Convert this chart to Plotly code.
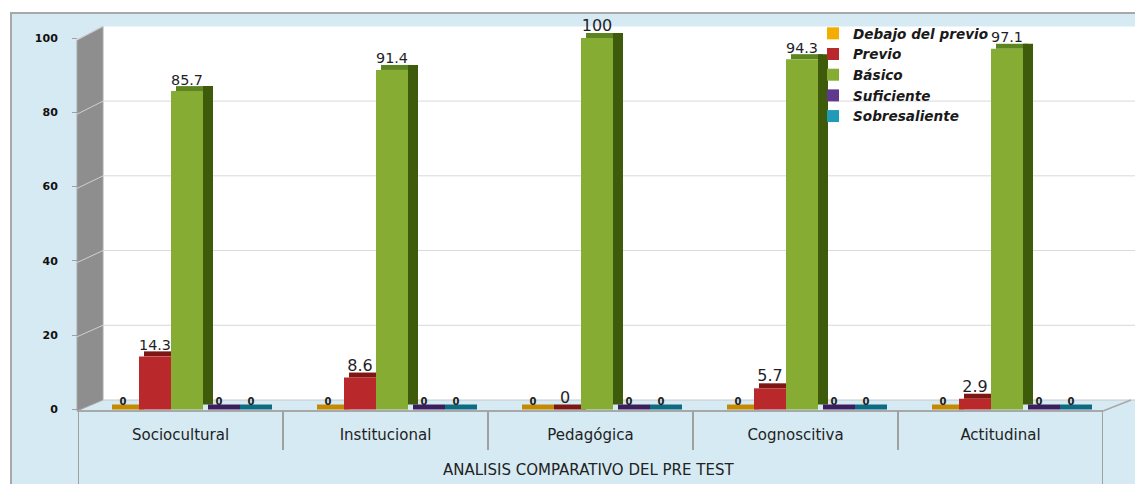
import plotly.graph_objects as go

# ---------------- data ----------------
categories = ["Sociocultural", "Institucional", "Pedagógica", "Cognoscitiva", "Actitudinal"]
series_names = ["Debajo del previo", "Previo", "Básico", "Suficiente", "Sobresaliente"]
debajo_del_previo = [0, 0, 0, 0, 0]
previo = [14.3, 8.6, 0, 5.7, 2.9]
basico = [85.7, 91.4, 100, 94.3, 97.1]
suficiente = [0, 0, 0, 0, 0]
sobresaliente = [0, 0, 0, 0, 0]
y_ticks = [0, 20, 40, 60, 80, 100]
x_title = "ANALISIS COMPARATIVO DEL PRE TEST"

series_values = [debajo_del_previo, previo, basico, suficiente, sobresaliente]

# ---------------- styling ----------------
W, H = 1135, 484
L, R, T, B = 78, 1103, 28, 411          # plot area in px
CAT_PX = (R - L) / len(categories)
Y_PX = 3.715                             # px per unit on bar axis
Y_MIN = -(B - 409.5) / Y_PX
Y_MAX = Y_MIN + (B - T) / Y_PX

front_colors = ["#F5AC00", "#B9282A", "#86AC34", "#60398E", "#1F9BB8"]
top_colors = ["#C68A00", "#7E1614", "#5C8420", "#3C1E5E", "#0E6B82"]
side_colors = ["#946600", "#6A1010", "#3E5A0B", "#2C1546", "#0A5061"]
label_fonts = [
    dict(family="DejaVu Sans", size=10, color="#1a1a1a", weight="bold"),
    dict(family="DejaVu Sans", size=16, color="#1f1f2a"),
    dict(family="DejaVu Sans", size=16, color="#1f1f2a"),
    dict(family="DejaVu Sans", size=10, color="#1a1a1a", weight="bold"),
    dict(family="DejaVu Sans", size=10, color="#1a1a1a", weight="bold"),
]

BAR_W = 32 / CAT_PX
SIDE_W = 10 / CAT_PX
TOP_SHIFT = 5 / CAT_PX
DEPTH = 5 / Y_PX
FIRST_OFF = -73.5 / CAT_PX


def px(x):
    return (x - L) / (R - L)


def py(y):
    return (B - y) / (B - T)


def front_y(v):   # front wall pixel
    return 411 - v * 3.71


def back_y(v):    # back wall pixel
    return 400 - v * 3.736


fig = go.Figure()

for k, (name, vals) in enumerate(zip(series_names, series_values)):
    off = FIRST_OFF + k * BAR_W
    # top face
    fig.add_trace(go.Bar(
        x=categories, y=[DEPTH for _ in vals], base=vals,
        offset=off + TOP_SHIFT, width=BAR_W,
        marker=dict(color=top_colors[k], line=dict(width=0)),
        showlegend=False, hoverinfo="skip",
    ))
    # side face
    fig.add_trace(go.Bar(
        x=categories, y=vals, base=DEPTH,
        offset=off + BAR_W, width=SIDE_W,
        marker=dict(color=side_colors[k], line=dict(width=0)),
        showlegend=False, hoverinfo="skip",
    ))
    # front face
    fig.add_trace(go.Bar(
        x=categories, y=vals, name=name,
        offset=off, width=BAR_W,
        marker=dict(color=front_colors[k], line=dict(width=0)),
        texttemplate="%{y}", textposition="outside",
        textfont=label_fonts[k], cliponaxis=False,
    ))

shapes = []
# outer frame
shapes.append(dict(type="rect", xref="paper", yref="paper",
                   x0=px(11), x1=px(1150), y0=py(13), y1=py(500),
                   fillcolor="#D6EAF3", line=dict(color="#A8A8A8", width=2),
                   layer="below"))
# back wall
shapes.append(dict(type="rect", xref="paper", yref="paper",
                   x0=px(103), x1=px(1150), y0=py(back_y(0)), y1=py(back_y(100)),
                   fillcolor="#FFFFFF", line=dict(width=0), layer="below"))
# left wall
shapes.append(dict(type="path", xref="paper", yref="paper",
                   path=f"M {px(77)} {py(front_y(0))} L {px(77)} {py(front_y(100))} "
                        f"L {px(103)} {py(back_y(100))} L {px(103)} {py(back_y(0))} Z",
                   fillcolor="#8E8E8E", line=dict(color="#A8A8A8", width=1),
                   layer="below"))
# gridlines on back and left walls
for v in y_ticks[1:-1]:
    shapes.append(dict(type="line", xref="paper", yref="paper",
                       x0=px(103), x1=px(1150), y0=py(back_y(v)), y1=py(back_y(v)),
                       line=dict(color="#D9D9D9", width=1), layer="below"))
for v in y_ticks[1:]:
    shapes.append(dict(type="line", xref="paper", yref="paper",
                       x0=px(77), x1=px(103), y0=py(front_y(v)), y1=py(back_y(v)),
                       line=dict(color="#D0D0D0", width=1), layer="below"))
# floor edges
shapes.append(dict(type="line", xref="paper", yref="paper",
                   x0=px(103), x1=px(1150), y0=py(back_y(0)), y1=py(back_y(0)),
                   line=dict(color="#C8C8C8", width=1), layer="below"))
shapes.append(dict(type="line", xref="paper", yref="paper",
                   x0=px(R), x1=px(1131), y0=py(B), y1=py(back_y(0)),
                   line=dict(color="#A8A8A8", width=1.5), layer="below"))
shapes.append(dict(type="line", xref="paper", yref="paper",
                   x0=px(77), x1=px(R), y0=py(B), y1=py(B),
                   line=dict(color="#A8A8A8", width=2), layer="above"))
# category dividers
for i in range(len(categories) - 1):
    shapes.append(dict(type="line", xref="x", yref="paper",
                       x0=i + 0.5, x1=i + 0.5, y0=py(B), y1=py(450),
                       line=dict(color="#A0A0A0", width=2), layer="above"))
for xe in (-0.5, len(categories) - 0.5):
    shapes.append(dict(type="line", xref="x", yref="paper",
                       x0=xe, x1=xe, y0=py(B), y1=py(490),
                       line=dict(color="#A0A0A0", width=2), layer="above"))

fig.update_layout(
    width=W, height=H,
    margin=dict(l=L, r=W - R, t=T, b=H - B, pad=0),
    paper_bgcolor="#FFFFFF",
    plot_bgcolor="rgba(0,0,0,0)",
    barmode="overlay",
    shapes=shapes,
    showlegend=True,
    legend=dict(
        x=px(813), y=py(18), xanchor="left", yanchor="top",
        bgcolor="rgba(0,0,0,0)", borderwidth=0,
        font=dict(family="DejaVu Sans", size=13.6, color="#1a1a1a",
                  weight="bold", style="italic"),
        itemwidth=30, tracegroupgap=0, traceorder="normal",
    ),
    xaxis=dict(
        type="category", range=[-0.5, len(categories) - 0.5],
        showgrid=False, zeroline=False, showline=False, ticks="",
        tickfont=dict(family="DejaVu Sans", size=15, color="#222222"),
        ticklabelstandoff=13,
    ),
    yaxis=dict(
        range=[Y_MIN, Y_MAX], tickvals=y_ticks,
        showgrid=False, zeroline=False, showline=False,
        ticks="outside", ticklen=5, tickcolor="#A0A0A0", tickwidth=1,
        tickfont=dict(family="DejaVu Sans", size=11, color="#111111", weight="bold"),
        ticklabelstandoff=12,
    ),
    annotations=[dict(
        text=x_title, xref="paper", yref="paper", x=px(588), y=py(470),
        xanchor="center", yanchor="middle", showarrow=False,
        font=dict(family="DejaVu Sans", size=15, color="#222222"),
    )],
)

fig.write_html("out.html", config={"displayModeBar": False},
               post_script="document.body.style.margin='0';document.body.style.overflow='hidden';")
